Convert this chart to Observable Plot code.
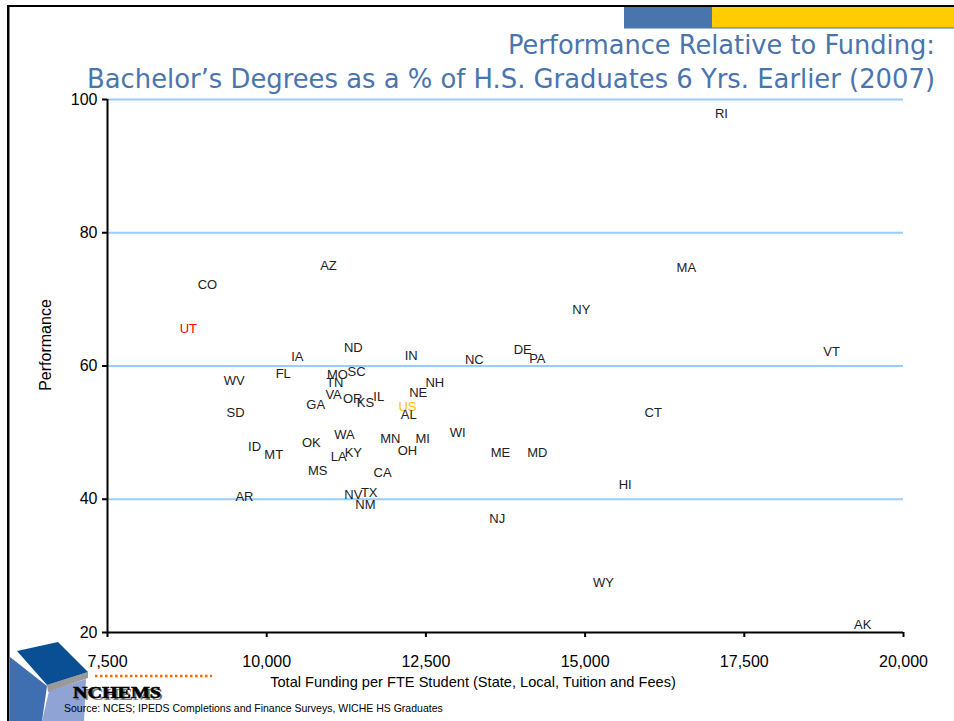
<!DOCTYPE html>
<html>
<head>
<meta charset="utf-8">
<script src="https://cdn.jsdelivr.net/npm/d3@7"></script>
<script src="https://cdn.jsdelivr.net/npm/@observablehq/plot@0.6"></script>
<style>
  html, body { margin: 0; padding: 0; background: #fff; }
  #wrap { position: relative; width: 954px; height: 721px; overflow: hidden; }
  #wrap > svg { position: absolute; left: 0; top: 0; }
  #deco { pointer-events: none; }
</style>
</head>
<body>
<div id="wrap"></div>
<script>
const states = ["RI","MA","AZ","CO","NY","UT","ND","IN","NC","DE","PA","VT","IA","FL","WV","MO","SC","TN","NH","NE","VA","OR","IL","KS","GA","US","AL","SD","CT","WI","WA","MN","MI","OK","ID","MT","OH","ME","MD","LA","KY","MS","CA","HI","AR","NV","TX","NM","NJ","WY","AK"];
const funding = [17140,16590,10970,9070,14940,8770,11360,12270,13260,14020,14250,18870,10480,10260,9490,11110,11410,11070,12640,12380,11050,11350,11760,11550,10770,12210,12230,9510,16070,13000,11220,11940,12450,10700,9810,10110,12210,13670,14250,11130,11360,10800,11820,15630,9650,11360,11610,11550,13620,15290,19360];
const performance = [97.8,74.8,75.1,72.2,68.5,65.6,62.8,61.6,61.0,62.5,61.1,62.2,61.4,58.9,57.7,58.7,59.2,57.4,57.4,55.9,55.6,55.1,55.4,54.5,54.1,53.8,52.6,52.9,52.9,50.0,49.7,49.1,49.0,48.4,47.9,46.7,47.2,46.9,46.9,46.3,46.9,44.3,43.9,42.1,40.4,40.6,40.9,39.1,37.0,27.4,21.2];
const xTicks = [7500,10000,12500,15000,17500,20000];
const yTicks = [20,40,60,80,100];
const gridValues = [40,60,80,100];
const highlight = {UT: "#ff0000", US: "#ffc000"};

const data = states.map((s, i) => ({state: s, funding: funding[i], performance: performance[i]}));

// decorative slide background (drawn beneath the chart)
const ns = "http://www.w3.org/2000/svg";
const back = document.createElementNS(ns, "svg");
back.setAttribute("width", 954);
back.setAttribute("height", 721);
back.innerHTML = `
  <rect x="7" y="5" width="947" height="2" fill="#000"/>
  <rect x="7" y="5" width="2.5" height="716" fill="#000"/>
  <rect x="624" y="7" width="88" height="21" fill="#4775ac"/>
  <rect x="712" y="7" width="242" height="21" fill="#ffcc00"/>
  <rect x="624" y="27.5" width="330" height="1" fill="#4775ac"/>
  <g>
    <polygon points="10,657 47,686 42,721 10,721" fill="#3f6fb0"/>
    <polygon points="49,691 86,679 84,721 42,721" fill="#8fa4d4"/>
    <polygon points="47,685 88,672 88,678 48,692" fill="#9a9a9a"/>
    <polygon points="17,651 58,642 88,672 47,685" fill="#0a4f94"/>
    <line x1="95" y1="676" x2="212" y2="676" stroke="#ff6600" stroke-width="2.5" stroke-dasharray="2.5,2.5"/>
  </g>
`;
document.getElementById("wrap").appendChild(back);

const chart = Plot.plot({
  width: 954,
  height: 721,
  marginLeft: 107,
  marginRight: 51,
  marginTop: 99,
  marginBottom: 89,
  style: {fontFamily: "'Liberation Sans', Arial, sans-serif", background: "transparent", color: "#000"},
  x: {domain: [7500, 20000]},
  y: {domain: [20, 100]},
  marks: [
    Plot.ruleY(gridValues, {stroke: "#99ccff", strokeWidth: 2}),
    Plot.axisX({ticks: xTicks, tickFormat: d3.format(","), tickSize: 5, tickPadding: 18, fontSize: 16, strokeWidth: 2, label: null}),
    Plot.axisY({ticks: yTicks, tickSize: 5, tickPadding: 5, fontSize: 16, strokeWidth: 2, label: null}),
    Plot.ruleX([7500], {stroke: "#000", strokeWidth: 2}),
    Plot.ruleY([20], {stroke: "#000", strokeWidth: 2}),
    Plot.text(data, {x: "funding", y: "performance", text: "state", fontSize: 13,
      fill: d => highlight[d.state] || "#222"})
  ]
});
document.getElementById("wrap").appendChild(chart);

const deco = document.createElementNS(ns, "svg");
deco.setAttribute("id", "deco");
deco.setAttribute("width", 954);
deco.setAttribute("height", 721);
deco.innerHTML = `
  <g font-family="'DejaVu Sans Condensed', 'DejaVu Sans', sans-serif" fill="#4a74ad" font-size="27" text-anchor="end">
    <text x="935" y="54" textLength="427" lengthAdjust="spacingAndGlyphs">Performance Relative to Funding:</text>
    <text x="935" y="88" textLength="848" lengthAdjust="spacingAndGlyphs">Bachelor’s Degrees as a % of H.S. Graduates 6 Yrs. Earlier (2007)</text>
  </g>
  <g font-family="'Liberation Sans', Arial, sans-serif" fill="#000">
    <text transform="translate(51,345) rotate(-90)" text-anchor="middle" font-size="16">Performance</text>
    <text x="473" y="687" text-anchor="middle" font-size="14.6">Total Funding per FTE Student (State, Local, Tuition and Fees)</text>
    <text x="64" y="712" font-size="10.5">Source: NCES; IPEDS Completions and Finance Surveys, WICHE HS Graduates</text>
  </g>
  <g>
    <text x="75" y="699.5" font-family="'Liberation Serif', serif" font-weight="bold" font-size="16" fill="#777" textLength="88" lengthAdjust="spacingAndGlyphs">NCHEMS</text>
    <text x="73" y="698" font-family="'Liberation Serif', serif" font-weight="bold" font-size="16" fill="#000" stroke="#000" stroke-width="0.6" textLength="88" lengthAdjust="spacingAndGlyphs">NCHEMS</text>
  </g>
`;
document.getElementById("wrap").appendChild(deco);
</script>
</body>
</html>
